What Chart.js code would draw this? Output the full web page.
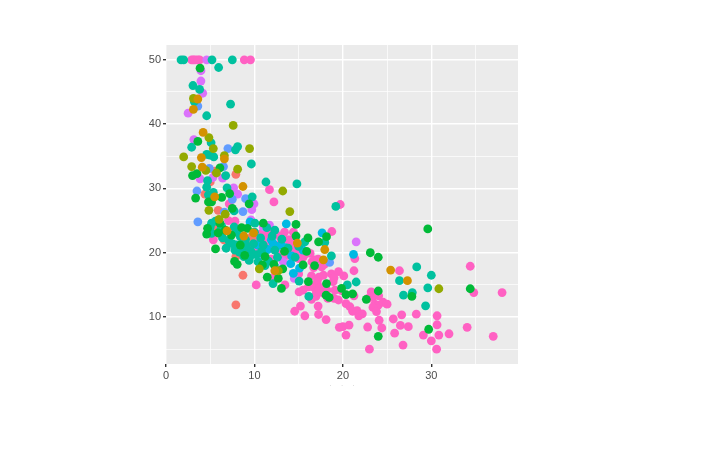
<!DOCTYPE html>
<html>
<head>
<meta charset="utf-8">
<title>Scatter</title>
<script src="https://cdn.jsdelivr.net/npm/chart.js@4/dist/chart.umd.min.js"></script>
<style>
  html, body { margin: 0; padding: 0; background: #fff; }
  canvas { display: block; }
</style>
</head>
<body>
<canvas id="grafica" width="720" height="450"></canvas>
<script>
// values, one list per colour group: [x, y]
const orange = [[3.6,43.9],[3.1,42.3],[4.2,38.7],[4.0,34.8],[6.6,34.6],[4.1,33.3],[8.7,30.3],[5.5,28.7],[8.8,22.6],[14.85,21.5],[17.95,20.5],[17.8,18.9],[12.3,17.2],[25.4,17.3],[27.3,15.65],[9.9,23.1],[6.9,23.4]];
const olive = [[3.1,44.0],[7.6,39.8],[4.85,37.9],[5.35,36.2],[9.45,36.2],[6.6,35.1],[2.0,34.9],[2.9,33.4],[8.1,33.0],[4.5,32.8],[5.7,32.4],[13.2,29.6],[4.85,26.6],[14.0,26.4],[6.0,25.2],[10.55,17.5],[12.7,17.2],[30.85,14.4],[6.7,26.0]];
const green = [[3.85,48.7],[3.6,37.3],[6.1,33.2],[3.5,32.3],[3.0,32.0],[7.2,29.2],[3.35,28.5],[6.3,28.6],[4.8,27.9],[5.15,27.9],[9.4,27.6],[7.5,26.9],[6.1,24.6],[4.7,23.8],[4.6,22.9],[7.4,22.75],[8.55,23.9],[9.2,23.8],[5.6,20.6],[8.4,21.2],[7.75,18.65],[8.05,18.2],[11.0,24.6],[14.7,24.4],[16.05,22.3],[17.25,21.7],[18.15,22.5],[13.4,20.2],[15.9,20.2],[15.5,18.1],[13.2,17.5],[11.45,16.2],[12.7,16.0],[13.05,14.45],[16.1,15.5],[18.15,15.2],[18.1,13.4],[18.45,13.05],[29.6,23.7],[23.1,20.0],[24.0,19.3],[34.4,14.4],[27.8,13.2],[29.7,8.1],[24.0,7.0],[24.0,14.05],[22.65,12.75],[19.85,14.45],[20.35,13.5],[21.1,13.6],[11.2,19.4],[12.2,18.2],[10.9,18.1],[6.7,23.5],[5.9,23.1],[8.9,19.6],[14.7,22.6],[16.8,18.0]];
const teal = [[1.7,50],[2.0,50],[5.2,50],[7.5,50],[5.95,48.8],[3.05,46.0],[3.8,45.4],[3.2,43.5],[7.3,43.1],[4.6,41.3],[5.1,37.1],[2.9,36.4],[7.85,36.0],[8.1,36.5],[4.6,35.3],[4.9,35.2],[5.4,34.9],[9.65,33.8],[6.75,32.0],[4.7,31.2],[11.3,31.0],[14.8,30.7],[4.6,30.2],[6.9,30.1],[5.35,29.4],[4.8,29.0],[9.75,28.7],[19.2,27.2],[7.7,26.5],[5.15,24.6],[5.0,24.0],[7.7,24.0],[5.15,23.0],[10.05,24.6],[12.3,23.5],[6.8,20.7],[8.0,21.2],[7.8,20.4],[8.75,20.7],[9.4,18.8],[10.4,18.6],[12.3,20.4],[15.7,21.7],[17.95,21.6],[18.7,19.5],[12.1,15.2],[15.05,15.6],[16.15,13.2],[28.35,17.8],[30.0,16.5],[26.4,15.65],[29.6,14.55],[26.85,13.4],[27.85,13.8],[29.35,11.75],[21.5,15.45],[20.5,15.0],[9.0,22.0],[9.6,20.2],[10.2,19.7],[8.4,22.5],[6.3,24.1],[5.6,24.9],[4.9,23.5],[11.6,18.7],[11.0,21.2],[12.6,19.3],[13.1,22.1],[14.6,19.3],[10.7,22.3],[9.9,21.4],[8.0,23.2],[6.4,22.3],[7.1,21.9],[13.8,20.7],[15.0,21.0],[8.3,20.1],[9.1,21.1],[8.8,19.4],[10.0,23.2],[11.4,23.9],[7.5,21.4],[6.2,23.6],[12.0,22.6],[10.8,20.2],[9.5,19.4],[11.2,18.0]];
const cyan = [[9.5,24.8],[13.6,24.5],[11.9,22.0],[13.0,21.2],[17.65,23.1],[15.5,20.4],[14.1,18.3],[15.1,17.6],[14.4,16.8],[21.2,19.75],[12.1,21.5],[13.5,20.8],[10.4,21.2],[11.5,20.5],[12.5,21.0],[14.2,19.5],[11.0,19.9]];
const blue = [[3.6,42.8],[7.0,36.2],[4.9,33.1],[6.5,33.4],[3.5,29.6],[7.5,28.3],[9.0,28.4],[8.7,26.4],[6.6,26.3],[3.6,24.8],[18.5,18.5],[12.4,17.7],[10.8,19.5]];
const purple = [[4.6,50],[3.95,48.3],[3.95,46.7],[4.15,44.8],[2.5,41.7],[3.15,37.6],[3.85,31.5],[5.3,31.7],[6.4,31.6],[7.65,30.1],[8.1,29.1],[9.95,27.6],[9.7,26.7],[9.6,25.1],[11.0,24.0],[11.7,24.3],[13.25,18.6],[14.5,16.0],[21.5,21.7]];
const red = [[5.5,32.7],[7.9,32.2],[5.0,31.0],[4.4,29.1],[5.9,26.6],[5.65,23.9],[6.0,23.0],[6.55,22.0],[9.7,22.5],[9.2,20.7],[7.9,19.4],[8.7,16.5],[7.9,11.9],[6.3,22.6],[9.4,21.1]];
const pink = [[2.9,50],[3.1,50],[3.3,50],[3.6,50],[3.8,50],[8.85,50],[9.55,50],[11.7,29.8],[12.2,27.9],[19.7,27.5],[7.15,27.6],[7.05,25.0],[7.8,24.9],[7.8,23.8],[5.35,22.0],[10.25,21.5],[10.3,20.3],[10.4,20.5],[10.2,15.0],[10.8,23.0],[11.4,22.9],[12.7,22.65],[13.4,23.2],[14.4,23.2],[14.0,22.0],[11.4,20.6],[14.2,20.2],[14.7,20.2],[16.3,19.9],[15.0,19.1],[16.5,18.6],[17.2,19.0],[17.6,17.8],[16.7,17.7],[15.0,16.7],[12.05,16.1],[13.45,15.0],[16.45,16.4],[17.3,16.2],[18.7,16.7],[19.5,17.05],[18.9,15.5],[16.1,14.7],[15.5,14.2],[15.05,13.9],[16.45,12.75],[16.95,13.2],[17.8,13.7],[19.0,12.9],[19.5,12.65],[17.2,11.7],[15.2,11.7],[14.55,10.9],[17.25,10.4],[15.7,10.2],[18.1,9.6],[19.6,8.4],[18.75,23.3],[21.35,19.1],[26.4,17.2],[34.4,17.9],[34.8,13.8],[38.0,13.8],[28.3,10.45],[26.65,10.35],[30.65,10.2],[25.7,9.7],[30.65,8.8],[26.5,8.7],[27.4,8.5],[34.05,8.4],[24.1,9.5],[22.8,8.45],[24.4,8.3],[20.7,8.75],[20.0,8.5],[20.35,7.2],[25.85,7.5],[29.1,7.2],[30.85,7.2],[32.0,7.4],[30.0,6.3],[37.0,7.0],[26.8,5.65],[30.6,5.0],[23.0,5.0],[23.2,13.9],[22.85,12.9],[23.4,13.15],[24.05,13.3],[23.6,12.0],[24.0,11.85],[24.55,12.3],[25.0,12.0],[23.4,11.5],[23.8,10.85],[21.25,17.2],[20.1,16.4],[19.85,14.1],[21.25,13.3],[20.35,12.1],[20.8,11.6],[21.1,10.9],[21.6,11.0],[21.8,10.2],[22.2,10.5],[12.9,21.3],[13.7,19.6],[11.9,19.0],[15.5,19.3],[10.6,21.7],[12.7,19.9],[13.8,22.0],[14.4,21.2],[16.8,18.9],[17.8,16.5],[17.1,15.5],[16.6,14.7],[17.4,14.6],[17.0,13.9],[18.2,14.2],[19.1,14.2],[15.7,19.8],[17.9,18.2],[19.0,16.1],[18.3,12.9],[10.3,22.4],[11.0,21.9],[12.2,20.9],[13.2,19.8],[11.6,21.0],[12.0,23.2],[13.1,21.9],[14.7,21.0],[13.6,20.4]];

const groups = [orange, olive, green, teal, cyan, blue, purple, red, pink];
const colores = ['#D39200', '#93AA00', '#00BA38', '#00C19F', '#00B9E3', '#619CFF', '#DB72FB', '#F8766D', '#FF61C3'];
const xTicks = [0, 5, 10, 15, 20, 25, 30, 35];
const yTicks = [5, 10, 15, 20, 25, 30, 35, 40, 45, 50];

const esMayor = v => v % 10 === 0;

// panel background, chart.js has no option for it
const fondoPanel = {
  id: 'fondoPanel',
  beforeDraw(chart) {
    const { ctx, chartArea: a } = chart;
    ctx.save();
    ctx.fillStyle = '#EBEBEB';
    ctx.fillRect(a.left, a.top, a.right - a.left, a.bottom - a.top);
    ctx.restore();
  }
};

const ejeComun = (ticks) => ({
  type: 'linear',
  border: { display: false },
  afterBuildTicks(scale) { scale.ticks = ticks.map(v => ({ value: v })); },
  grid: {
    color: '#FFFFFF',
    lineWidth: ctx => (ctx.tick && esMayor(ctx.tick.value) ? 1.4 : 0.7),
    tickColor: ctx => (ctx.tick && esMayor(ctx.tick.value) ? '#333333' : 'rgba(0,0,0,0)'),
    tickLength: 3
  },
  ticks: {
    autoSkip: false,
    maxRotation: 0,
    color: '#4D4D4D',
    padding: 2,
    font: { family: '"Liberation Sans", Arial, sans-serif', size: 11 },
    callback: v => (esMayor(v) ? String(v) : '')
  }
});

new Chart(document.getElementById('grafica'), {
  type: 'scatter',
  data: {
    datasets: groups.map((g, i) => ({
      data: g.map(p => ({ x: p[0], y: p[1] })),
      backgroundColor: colores[i],
      borderWidth: 0,
      pointRadius: 4.4
    }))
  },
  plugins: [fondoPanel],
  options: {
    responsive: false,
    animation: false,
    layout: { padding: { left: 0, top: 45, right: 202, bottom: 62 } },
    plugins: { legend: { display: false }, tooltip: { enabled: false } },
    scales: {
      x: {
        ...ejeComun(xTicks),
        min: 0,
        max: 39.8,
        title: { display: true, text: '.      .      .', color: '#999999', padding: 0, font: { family: '"Liberation Sans", Arial, sans-serif', size: 6 } },
        afterFit(s) { s.height = 24; }
      },
      y: { ...ejeComun(yTicks), min: 2.7, max: 52.3, afterFit(s) { s.width = 166; } }
    }
  }
});
</script>
</body>
</html>
